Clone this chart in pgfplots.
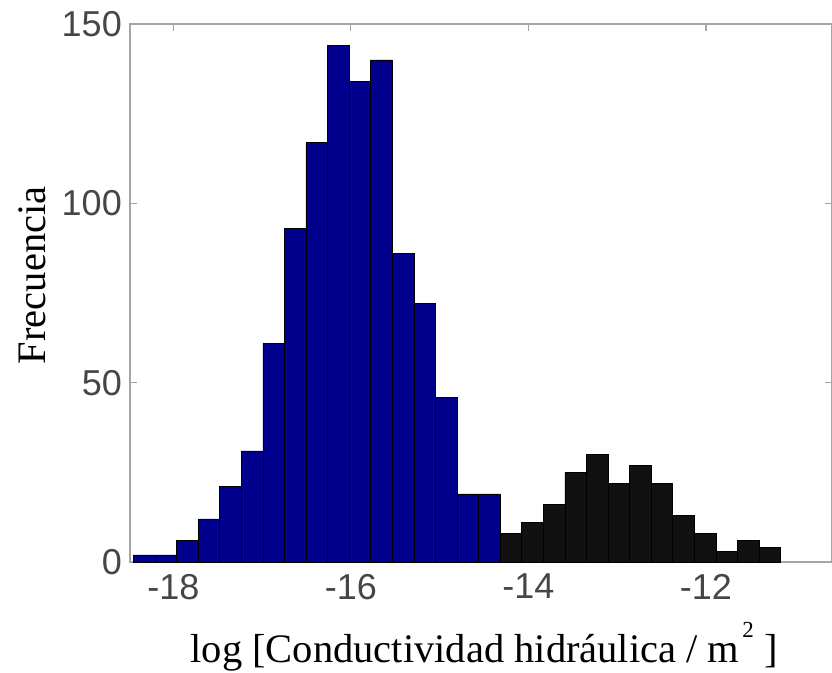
\documentclass[border=0pt]{standalone}
\usepackage{pgfplots}
\pgfplotsset{compat=1.18}
\usepackage{fontspec}
\setmainfont{Liberation Sans}
\newfontfamily\serifface{Liberation Serif}
\usetikzlibrary{calc}

\definecolor{histblue}{RGB}{0,0,140}
\definecolor{histblack}{RGB}{17,17,17}
\definecolor{framegray}{RGB}{165,165,165}
\definecolor{ticktext}{RGB}{70,70,70}

\begin{document}
\begin{tikzpicture}
\begin{axis}[
  name=ax,
  scale only axis,
  width=702pt, height=538pt,
  xmin=-18.488, xmax=-10.58,
  ymin=0, ymax=150,
  xtick={-18,-16,-14,-12},
  xticklabels={-18,-16,-14,-12},
  ytick={0,50,100,150},
  yticklabels={0,50,100,150},
  tick align=inside,
  major tick length=7pt,
  axis line style={framegray, line width=1.2pt},
  every tick/.style={framegray, line width=1.2pt},
  tick label style={font=\fontsize{36}{40}\selectfont, text=ticktext, inner sep=0pt},
  yticklabel style={xshift=-8pt},
  xticklabel style={yshift=-12pt},
  xlabel={log [Conductividad hidráulica / m\kern3pt\raisebox{25pt}{\fontsize{23}{23}\selectfont 2} ]},
  ylabel={Frecuencia},
  label style={font=\serifface\fontsize{40.5}{46}\selectfont, text=black},
  xlabel style={at={(axis description cs:0.5043,-0.1859)}, anchor=base},
  ylabel style={at={(axis description cs:-0.1197,0.533)}, anchor=base},
]
% lower population (blue), bin edges and counts
\addplot[ybar interval, fill=histblue, draw=black, line width=0.6pt] coordinates {
  (-18.450,2) (-18.207,2) (-17.964,6) (-17.721,12) (-17.478,21)
  (-17.235,31) (-16.992,61) (-16.749,93) (-16.506,117) (-16.263,144)
  (-16.020,134) (-15.777,140) (-15.534,86) (-15.291,72) (-15.048,46)
  (-14.805,19) (-14.562,19) (-14.319,0)
};
% upper population (black)
\addplot[ybar interval, fill=histblack, draw=black, line width=0.6pt] coordinates {
  (-14.319,8) (-14.076,11) (-13.833,16) (-13.590,25) (-13.347,30)
  (-13.104,22) (-12.861,27) (-12.618,22) (-12.375,13) (-12.132,8)
  (-11.889,3) (-11.646,6) (-11.403,4) (-11.160,0)
};
\end{axis}
\pgfresetboundingbox
\path[use as bounding box] ($(ax.south west)+(-130pt,-110pt)$) rectangle ($(ax.north east)+(0pt,24pt)$);
\end{tikzpicture}
\end{document}
